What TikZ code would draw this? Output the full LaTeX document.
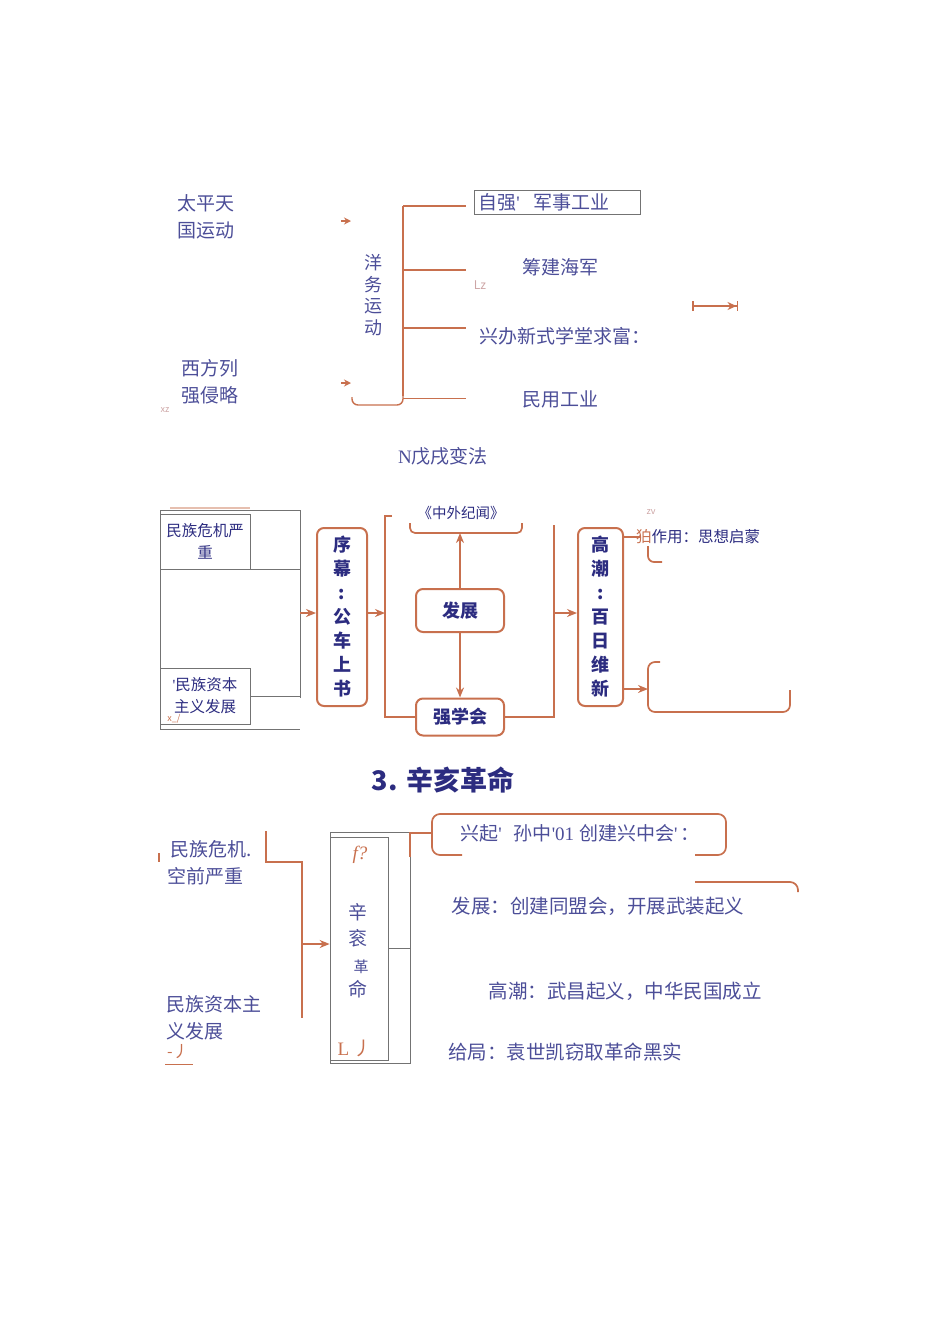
\documentclass[tikz,border=0pt]{standalone}
\usepackage{fontspec}
\setmainfont{Noto Sans CJK SC}
\newfontfamily\serif{Liberation Serif}
\usetikzlibrary{arrows.meta,positioning}
\definecolor{linkred}{RGB}{200,112,78}
\definecolor{inkblue}{RGB}{76,78,152}
\definecolor{navy}{RGB}{44,44,128}
\definecolor{boxgray}{RGB}{115,115,115}
\definecolor{faint}{RGB}{205,165,165}

\begin{document}
\begin{tikzpicture}[x=1pt,y=-1pt,>={Stealth[length=10pt,width=8pt]},
  lbl/.style={text=inkblue,inner sep=0pt,font=\fontsize{19}{27}\selectfont},
  small/.style={text=navy,inner sep=0pt,font=\fontsize{15.5}{22}\selectfont},
  bold/.style={text=navy,inner sep=0pt,font=\fontsize{18}{24}\selectfont\bfseries},
  vert/.style={align=center},
  link/.style={draw=linkred,line width=1.7pt},
  rbox/.style={draw=linkred,line width=2pt,rounded corners=7pt},
  gbox/.style={draw=boxgray,line width=0.7pt},
  tag/.style={text=faint,inner sep=0pt,font=\fontsize{9}{9}\selectfont}]

    \useasboundingbox (0,0) rectangle (950,1318);

    % 洋务运动
    \node[lbl,align=left] (taiping) at (206,217) {太平天\\国运动};
    \node[lbl,align=left] (xifang) at (210,382) {西方列\\强侵略};
    \node[tag] (xz) at (165,410) {xz};
    \coordinate (pa) at (341,221);
    \coordinate (pb) at (351,221);
    \coordinate (qa) at (341,383);
    \coordinate (qb) at (351,383);
    \draw[link,line width=1.2pt,-{Stealth[length=7pt,width=7pt]}] (pa) -- (pb);
    \draw[link,line width=1.2pt,-{Stealth[length=7pt,width=7pt]}] (qa) -- (qb);
    \node[lbl,vert,font=\fontsize{18}{21.5}\selectfont] (yangwu) at (373,295) {洋\\务\\运\\动};

    \coordinate (ytop) at (403,206);
    \coordinate (ybot) at (403,396);
    \draw[link,line width=1.4pt] (ytop) -- (ybot);
    \foreach \y in {206,270,328}
        \draw[link,line width=1.2pt] (403,\y) -- (466,\y);
    \draw[link,line width=1pt] (403,398) -- (466,398);
    \draw[link,line width=1.4pt,rounded corners=6pt] (352,397) -- (352,405) -- (403,405) -- (403,396);

    \node[gbox,lbl,anchor=west,minimum width=166,minimum height=24,text width=158,align=left,inner xsep=4pt] (ziqiang) at (474,202) {自强{\serif'}\hspace{14pt}军事工业};
    \node[lbl] (haijun) at (560,267) {筹建海军};
    \node[tag,font=\fontsize{12}{12}\selectfont] (lz) at (480,285) {Lz};
    \node[lbl] (xuetang) at (565,336) {兴办新式学堂求富：};
    \node[lbl] (minyong) at (560,399) {民用工业};
    \coordinate (ra) at (692,306);
    \coordinate (rb) at (738,306);
    \draw[link,line width=1.5pt,{Bar[width=10pt]}-{Stealth[length=9pt,width=8pt] Bar[width=10pt]}] (ra) -- (rb);
    \node[lbl] (wuxu) at (443,456) {{\serif N}戊戌变法};

    % 戊戌变法
    \draw[gbox] (300,698) -- (300,510) -- (160,510) -- (160,729) -- (300,729);
    \draw[gbox] (160,569) -- (300,569);
    \node[gbox,small,vert,minimum width=90,minimum height=55] (weiji) at (205,541.5) {民族危机严\\重};
    \node[gbox,small,vert,minimum width=90,minimum height=56] (ziben) at (205,696) {{\serif'}民族资本\\主义发展};
    \draw[gbox] (ziben.east) -- (300,696);
    \draw[draw=linkred!45,line width=2pt] (170,508) -- (250,508);
    \node[tag,text=linkred] (xj) at (174,719) {x\_/};

    \node[rbox,bold,vert,minimum width=50,minimum height=178] (xumu) at (342,617) {序\\幕\\:\\公\\车\\上\\书};
    \coordinate (m1) at (300,613);
    \draw[link,->] (m1) -- (m1 -| xumu.west);
    \coordinate (m2) at (385,613);
    \draw[link,->] (xumu.east |- m2) -- (m2);

    \node[small,font=\fontsize{14.5}{16}\selectfont] (jiwen) at (461,513) {《中外纪闻》};
    \draw[link,rounded corners=5pt] (410,523) -- (410,533) -- (522,533) -- (522,523);
    \coordinate (jw) at (460,533);
    \node[rbox,bold,minimum width=88,minimum height=43] (fazhan) at (460,610.5) {发展};
    \node[rbox,bold,minimum width=88,minimum height=37] (qiangxue) at (460,717) {强学会};
    \draw[link] (392,516) -- (385,516) -- (385,717) -- (qiangxue.west);
    \draw[link,->] (fazhan.north) -- (jw);
    \draw[link,->] (fazhan.south) -- (qiangxue.north);
    \draw[link] (qiangxue.east) -- (554,717) -- (554,525);

    \node[rbox,bold,vert,minimum width=45,minimum height=178] (gaochao) at (600.5,617) {高\\潮\\:\\百\\日\\维\\新};
    \coordinate (m3) at (554,613);
    \draw[link,->] (m3) -- (m3 -| gaochao.west);
    \coordinate (m4) at (640,537);
    \draw[link] (gaochao.east |- m4) -- (m4);
    \node[small,anchor=west] (zuoyong) at (636,537) {\textcolor{linkred}{狛}作用：思想启蒙};
    \draw[link,rounded corners=6pt] (648,546) -- (648,562) -- (662,562);
    \coordinate (m5) at (648,689);
    \draw[link,->] (gaochao.east |- m5) -- (m5);
    \draw[link,rounded corners=7pt] (660,662) -- (648,662) -- (648,712) -- (790,712) -- (790,690);
    \node[tag] (zv) at (651,512) {zv};

    % 辛亥革命
    \node[text=navy,font=\fontsize{27}{30}\selectfont\bfseries] (title) at (443,780) {3. 辛亥革命};

    \node[lbl,anchor=west] (wj1) at (170,849) {民族危机.};
    \node[lbl,anchor=west] (wj2) at (167,876) {空前严重};
    \draw[link,line width=2pt] (159,853) -- (159,862);
    \draw[link,line width=2pt] (266,831) -- (266,862) -- (302,862) -- (302,1018);
    \coordinate (b1) at (302,944);
    \node[lbl,anchor=west,align=left] (zb2) at (166,1018) {民族资本主\\义发展};
    \node[text=linkred,inner sep=0pt,font=\fontsize{16}{16}\selectfont] (mk) at (178,1052) {-丿};
    \draw[link,line width=1pt] (165,1064) -- (193,1064);

    \draw[gbox] (330,832) rectangle (410,1063);
    \node[gbox,minimum width=58,minimum height=223] (xinhai) at (359,948.5) {};
    \draw[gbox] (xinhai.east) -- (410,948.5);
    \draw[link,->] (b1) -- (b1 -| xinhai.west);
    \node[text=linkred,inner sep=0pt,font=\fontsize{19}{19}\serif\itshape] (fq) at (360,855) {f?};
    \node[lbl] (xin) at (358,912) {辛};
    \node[lbl] (hai) at (358,938) {衮};
    \node[lbl,font=\fontsize{15}{15}\selectfont] (ge) at (361,967) {革};
    \node[lbl] (ming) at (358,989) {命};
    \node[text=linkred,inner sep=0pt,font=\fontsize{19}{19}\selectfont] (lj) at (355,1048) {{\serif L} 丿};

    \draw[link] (410,857) -- (410,833) -- (432,833);
    \draw[link,rounded corners=8pt] (462,855) -- (432,855) -- (432,814) -- (726,814) -- (726,855) -- (695,855);
    \node[lbl] (xingqi) at (580,833) {兴起{\serif'}\hspace{12pt}孙中{\serif'01}\hspace{5pt}创建兴中会{\serif'}\hspace{3pt}：};
    \draw[link,rounded corners=8pt] (695,882) -- (798,882) -- (798,892);
    \node[lbl,font=\fontsize{19.5}{24}\selectfont] (fazhan2) at (598,906) {发展：创建同盟会，开展武装起义};
    \node[lbl,font=\fontsize{19.5}{24}\selectfont] (gaochao2) at (625,991) {高潮：武昌起义，中华民国成立};
    \node[lbl,font=\fontsize{19.5}{24}\selectfont] (jieju) at (565,1052) {给局：袁世凯窃取革命黑实};

\end{tikzpicture}
\end{document}
